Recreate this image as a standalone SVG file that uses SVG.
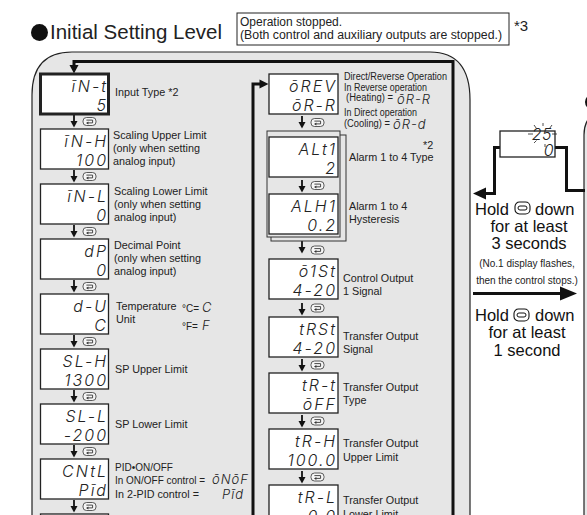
<svg xmlns="http://www.w3.org/2000/svg" width="587" height="515" viewBox="0 0 587 515">
<defs>
<style>
.panel{fill:#e6e6e6;stroke:#222;stroke-width:1.2}
.disp{fill:#fff;stroke:#222;stroke-width:1.3}
.bold{stroke-width:3}
.frame{fill:#e6e6e6;stroke:#333;stroke-width:1}
.seg{font-family:Inter,'Open Sans',sans-serif;font-style:oblique;font-weight:300;font-size:16px;fill:#222;text-anchor:end;letter-spacing:2px}
.iseg{font-family:Inter,'Open Sans',sans-serif;font-style:oblique;font-weight:300;font-size:13px;fill:#222;letter-spacing:1px}
.lbl{font-family:'Liberation Sans',Arial,sans-serif;font-size:10.8px;fill:#222}
.sm{font-size:10px}
.big{font-family:'Liberation Sans',Arial,sans-serif;font-size:16.5px;fill:#111}
.mid{text-anchor:middle}
.conn{stroke:#111;stroke-width:3;fill:none}
.head{fill:#111}
</style>
<g id="key"><rect x="0" y="0" width="13" height="8" rx="3.5" fill="#f6f6f6" stroke="#333" stroke-width="0.8"/><path d="M3.4,2.6 H9.6 V5.4 H5" fill="none" stroke="#333" stroke-width="0.9"/><path d="M3,5.4 L5.4,3.9 L5.4,6.9 Z" fill="#333"/></g>
<g id="dn"><line x1="0" y1="0" x2="0" y2="7" stroke="#111" stroke-width="1.8"/><path d="M-3.5,6 L3.5,6 L0,12.5 Z" fill="#111"/></g>
<g id="btn"><rect x="0" y="0" width="15" height="12" rx="4.5" fill="#fff" stroke="#111" stroke-width="1.1"/><rect x="3" y="4" width="9" height="4" rx="2" fill="none" stroke="#111" stroke-width="1"/></g>
</defs>

<!-- title -->
<g id="title">
<circle cx="39.5" cy="32.5" r="8.5" fill="#111"/>
<text x="50" y="39" font-family="'Liberation Sans',Arial,sans-serif" font-size="20.5" fill="#222">Initial Setting Level</text>
<rect x="237" y="13" width="272" height="32" fill="#fff" stroke="#222" stroke-width="1"/>
<text x="240" y="26" font-family="'Liberation Sans',Arial,sans-serif" font-size="12" fill="#222">Operation stopped.</text>
<text x="240" y="39" font-family="'Liberation Sans',Arial,sans-serif" font-size="12" fill="#222" textLength="262" lengthAdjust="spacingAndGlyphs">(Both control and auxiliary outputs are stopped.)</text>
<text x="514" y="31" font-family="'Liberation Sans',Arial,sans-serif" font-size="15" fill="#222">*3</text>
</g>

<!-- panels -->
<path class="panel" d="M32,516 V95 Q32,52 72,52 H430 Q470,52 470,100 V516 Z"/>
<path class="panel" d="M584,516 V135 Q584,110 612,110 H620 V516 Z"/>
<circle cx="593" cy="102" r="8" fill="#111"/>

<!-- connectors -->
<g id="connectors">
<path class="conn" d="M453,516 V61.5 H74 V66"/>
<path class="head" d="M69.5,65 L78.5,65 L74,73.5 Z"/>
<path class="conn" d="M253,516 V84 H261"/>
<path class="head" d="M259.5,79.5 L259.5,88.5 L268.5,84 Z"/>
<use href="#dn" x="74" y="115"/><use href="#key" x="83" y="117.5"/>
<use href="#dn" x="74" y="170"/><use href="#key" x="83" y="172.5"/>
<use href="#dn" x="74" y="225"/><use href="#key" x="83" y="227.5"/>
<use href="#dn" x="74" y="280"/><use href="#key" x="83" y="282.5"/>
<use href="#dn" x="74" y="335"/><use href="#key" x="83" y="337.5"/>
<use href="#dn" x="74" y="390"/><use href="#key" x="83" y="392.5"/>
<use href="#dn" x="74" y="445"/><use href="#key" x="83" y="447.5"/>
<use href="#dn" x="74" y="500"/><use href="#key" x="83" y="502.5"/>
<use href="#dn" x="302" y="116"/><use href="#key" x="311" y="118.5"/>
<use href="#dn" x="302" y="241"/><use href="#key" x="311" y="246"/>
<use href="#dn" x="302" y="303"/><use href="#key" x="311" y="304"/>
<use href="#dn" x="302" y="359"/><use href="#key" x="311" y="361"/>
<use href="#dn" x="302" y="415"/><use href="#key" x="311" y="417"/>
<use href="#dn" x="302" y="471"/><use href="#key" x="311" y="473"/>
<!-- right side transitions -->
<path class="conn" d="M500,147.5 H494.5 V193.5 H484"/>
<path class="head" d="M486,187.5 L473,193.5 L486,199.5 Z"/>
<path class="conn" d="M555,147.5 H566.5 V190.5 H585"/>
<path class="conn" d="M473,293.5 H563"/>
<path class="head" d="M560,286.5 L577,293.5 L560,300.5 Z"/>
</g>

<!-- left column -->
<g id="n-int">
<rect class="disp bold" x="40.5" y="74" width="68" height="40"/>
<text class="seg" x="108" y="92">īN-t</text><text class="seg" x="108" y="111">5</text>
<text class="lbl" x="115" y="96">Input Type *2</text>
</g>
<g id="n-inh">
<rect class="disp" x="40.5" y="129" width="68" height="40"/>
<text class="seg" x="108" y="147">īN-H</text><text class="seg" x="108" y="166">100</text>
<text class="lbl" x="113" y="139">Scaling Upper Limit</text><text class="lbl" x="113" y="152">(only when setting</text><text class="lbl" x="113" y="165">analog input)</text>
</g>
<g id="n-inl">
<rect class="disp" x="40.5" y="184" width="68" height="40"/>
<text class="seg" x="108" y="202">īN-L</text><text class="seg" x="108" y="221">0</text>
<text class="lbl" x="114" y="195">Scaling Lower Limit</text><text class="lbl" x="114" y="208">(only when setting</text><text class="lbl" x="114" y="221">analog input)</text>
</g>
<g id="n-dp">
<rect class="disp" x="40.5" y="239" width="68" height="40"/>
<text class="seg" x="108" y="257">dP</text><text class="seg" x="108" y="276">0</text>
<text class="lbl" x="114" y="249">Decimal Point</text><text class="lbl" x="114" y="262">(only when setting</text><text class="lbl" x="114" y="275">analog input)</text>
</g>
<g id="n-du">
<rect class="disp" x="40.5" y="294" width="68" height="40"/>
<text class="seg" x="108" y="312">d-U</text><text class="seg" x="108" y="331">C</text>
<text class="lbl" x="116" y="310">Temperature</text><text class="lbl" x="116" y="323">Unit</text>
<text class="lbl sm" x="182" y="312">°C=</text><text class="iseg" x="202" y="312">C</text>
<text class="lbl sm" x="182" y="330">°F=</text><text class="iseg" x="202" y="330">F</text>
</g>
<g id="n-slh">
<rect class="disp" x="40.5" y="349" width="68" height="40"/>
<text class="seg" x="108" y="367">SL-H</text><text class="seg" x="108" y="386">1300</text>
<text class="lbl" x="115" y="373">SP Upper Limit</text>
</g>
<g id="n-sll">
<rect class="disp" x="40.5" y="404" width="68" height="40"/>
<text class="seg" x="108" y="422">SL-L</text><text class="seg" x="108" y="441">-200</text>
<text class="lbl" x="115" y="428">SP Lower Limit</text>
</g>
<g id="n-cntl">
<rect class="disp" x="40.5" y="459" width="68" height="40"/>
<text class="seg" x="108" y="477">CNtL</text><text class="seg" x="108" y="496">Pīd</text>
<text class="lbl sm" x="115" y="471">PID•ON/OFF</text>
<text class="lbl sm" x="115" y="484" textLength="90" lengthAdjust="spacingAndGlyphs">In ON/OFF control =</text><text class="iseg" x="212" y="484">ōNōF</text>
<text class="lbl sm" x="115" y="498" textLength="84" lengthAdjust="spacingAndGlyphs">In 2-PID control =</text><text class="iseg" x="222" y="499">Pīd</text>
</g>
<g id="n-next">
<rect class="disp" x="40.5" y="514" width="68" height="40"/>
</g>

<!-- right column -->
<g id="n-orev">
<rect class="disp" x="269" y="74" width="69" height="40"/>
<text class="seg" x="337" y="92">ōREV</text><text class="seg" x="337" y="111">ōR-R</text>
<text class="lbl sm" x="344" y="80" textLength="103" lengthAdjust="spacingAndGlyphs">Direct/Reverse Operation</text>
<text class="lbl sm" x="344" y="90.5" textLength="83" lengthAdjust="spacingAndGlyphs">In Reverse operation</text>
<text class="lbl sm" x="346" y="101" textLength="47" lengthAdjust="spacingAndGlyphs">(Heating) =</text><text class="iseg" x="397" y="104" font-size="12.5">ōR-R</text>
<text class="lbl sm" x="344" y="115.5" textLength="73" lengthAdjust="spacingAndGlyphs">In Direct operation</text>
<text class="lbl sm" x="344" y="127" textLength="46" lengthAdjust="spacingAndGlyphs">(Cooling) =</text><text class="iseg" x="393" y="128.5" font-size="12.5">ōR-d</text>
</g>
<g id="n-alarm">
<rect class="frame" x="271" y="135" width="75" height="106"/>
<rect class="frame" x="267" y="131" width="73" height="106"/>
<g id="n-alt">
<rect class="disp" x="269" y="137" width="69" height="40"/>
<text class="seg" x="337" y="155">ALt1</text><text class="seg" x="337" y="174">2</text>
<text class="lbl" x="423" y="149" font-size="12">*2</text>
<text class="lbl" x="349" y="161">Alarm 1 to 4 Type</text>
</g>
<use href="#dn" x="302" y="180"/><use href="#key" x="311" y="181.5"/>
<g id="n-alh">
<rect class="disp" x="269" y="194" width="69" height="40"/>
<text class="seg" x="337" y="212">ALH1</text><text class="seg" x="337" y="231">0.2</text>
<text class="lbl" x="349" y="210">Alarm 1 to 4</text><text class="lbl" x="349" y="223">Hysteresis</text>
</g>
</g>
<g id="n-o1st">
<rect class="disp" x="269" y="259" width="69" height="40"/>
<text class="seg" x="337" y="277">ō1St</text><text class="seg" x="337" y="296">4-20</text>
<text class="lbl" x="343" y="282">Control Output</text><text class="lbl" x="343" y="295">1 Signal</text>
</g>
<g id="n-trst">
<rect class="disp" x="269" y="317" width="69" height="40"/>
<text class="seg" x="337" y="335">tRSt</text><text class="seg" x="337" y="354">4-20</text>
<text class="lbl" x="343" y="340">Transfer Output</text><text class="lbl" x="343" y="353">Signal</text>
</g>
<g id="n-trt">
<rect class="disp" x="269" y="373" width="69" height="40"/>
<text class="seg" x="337" y="391">tR-t</text><text class="seg" x="337" y="410">ōFF</text>
<text class="lbl" x="343" y="391">Transfer Output</text><text class="lbl" x="343" y="404">Type</text>
</g>
<g id="n-trh">
<rect class="disp" x="269" y="429" width="69" height="40"/>
<text class="seg" x="337" y="447">tR-H</text><text class="seg" x="337" y="466">100.0</text>
<text class="lbl" x="343" y="447">Transfer Output</text><text class="lbl" x="343" y="461">Upper Limit</text>
</g>
<g id="n-trl">
<rect class="disp" x="269" y="485" width="69" height="40"/>
<text class="seg" x="337" y="503">tR-L</text><text class="seg" x="337" y="522">0.0</text>
<text class="lbl" x="343" y="504">Transfer Output</text><text class="lbl" x="343" y="518">Lower Limit</text>
</g>

<!-- transition area -->
<g id="n-pv">
<rect class="disp" x="500" y="131" width="55" height="26"/>
<text class="seg" x="552" y="139.5" font-size="10.5" style="letter-spacing:0.5px">25</text>
<g stroke="#222" stroke-width="0.8">
<line x1="528" y1="134" x2="533" y2="134"/><line x1="552" y1="134" x2="557" y2="134"/>
<line x1="534" y1="125" x2="536.5" y2="128.5"/><line x1="552" y1="125" x2="549.5" y2="128.5"/>
<line x1="543" y1="123" x2="543" y2="126"/>
<line x1="534" y1="143" x2="536.5" y2="140.5"/><line x1="545" y1="144" x2="545" y2="147"/>
</g>
<text class="seg" x="554" y="155.5" font-size="8.5" style="letter-spacing:0.5px">0</text>
</g>
<g id="t-hold3">
<text class="big" x="475" y="215">Hold</text><use href="#btn" x="515" y="202"/><text class="big" x="535" y="215">down</text>
<text class="big mid" x="529" y="232">for at least</text>
<text class="big mid" x="529" y="249">3 seconds</text>
<text class="lbl sm mid" x="527" y="267">(No.1 display flashes,</text>
<text class="lbl sm mid" x="527" y="284">then the control stops.)</text>
</g>
<g id="t-hold1">
<text class="big" x="475" y="321">Hold</text><use href="#btn" x="514" y="309"/><text class="big" x="535" y="321">down</text>
<text class="big mid" x="527" y="338">for at least</text>
<text class="big mid" x="527" y="356">1 second</text>
</g>
</svg>
